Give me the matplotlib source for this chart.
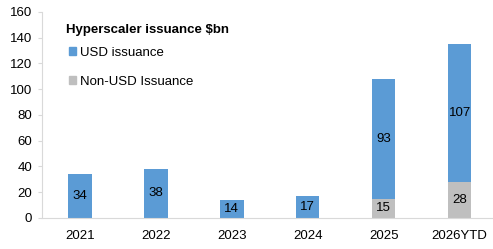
import matplotlib.pyplot as plt
from matplotlib.patches import Patch

years = ["2021", "2022", "2023", "2024", "2025", "2026YTD"]
usd = [34, 38, 14, 17, 93, 107]
non_usd = [0, 0, 0, 0, 15, 28]

blue = "#5B9BD5"
grey = "#BFBFBF"
axis_col = "#D9D9D9"
fs = 9.5

plt.rcParams["font.family"] = ["Liberation Sans", "DejaVu Sans"]

fig = plt.figure(figsize=(4.93, 2.49), dpi=100)
ax = fig.add_axes([0.085, 0.125, 0.912, 0.827])

x = range(len(years))
ax.bar(x, non_usd, width=0.31, color=grey)
ax.bar(x, usd, width=0.31, bottom=non_usd, color=blue)

# labels in the middle of each segment
for i in x:
    if non_usd[i] > 0:
        ax.text(i, non_usd[i] / 2, str(non_usd[i]), ha="center", va="center", fontsize=fs)
    ax.text(i, non_usd[i] + usd[i] / 2, str(usd[i]), ha="center", va="center", fontsize=fs)

ax.set_ylim(0, 160)
ax.set_yticks(range(0, 161, 20))
ax.set_xlim(-0.5, 5.42)
ax.set_xticks(list(x))
ax.set_xticklabels(years)
ax.tick_params(axis="x", length=0, labelsize=fs, pad=9)
ax.tick_params(axis="y", length=3, color=axis_col, labelsize=fs, pad=4)

for s in ["top", "right"]:
    ax.spines[s].set_visible(False)
for s in ["left", "bottom"]:
    ax.spines[s].set_color(axis_col)

ax.text(0.053, 0.912, "Hyperscaler issuance $bn", transform=ax.transAxes,
        fontsize=fs, fontweight="bold", va="center", ha="left")

handles = [Patch(color=blue, label="USD issuance"), Patch(color=grey, label="Non-USD Issuance")]
ax.legend(handles=handles, loc="upper left", bbox_to_anchor=(0.06, 0.83),
          frameon=False, fontsize=fs, borderpad=0, borderaxespad=0,
          handlelength=0.55, handleheight=0.55, handletextpad=0.3, labelspacing=1.3)

fig.savefig("out.png", dpi=100)
